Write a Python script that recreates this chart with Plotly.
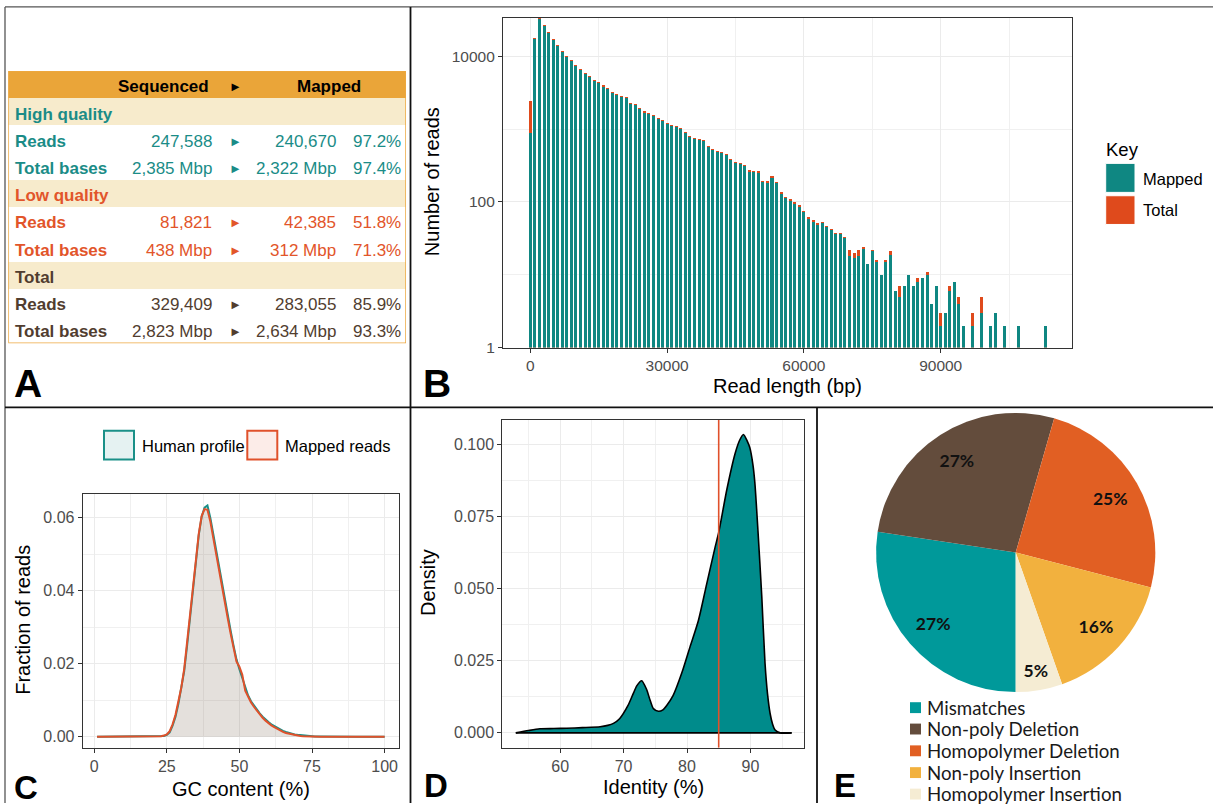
import math
import plotly.graph_objects as go

W, H = 1213, 811
def px(x): return x / W
def py(y): return 1 - y / H

FONT = "Liberation Sans, Arial, Helvetica, sans-serif"
PIE_FONT = "Lato, Open Sans, sans-serif"

# ---------------- Panel A : summary table ----------------
table_header = ["Sequenced", "\u25BA", "Mapped"]
table_labels = ["High quality", "Reads", "Total bases", "Low quality", "Reads", "Total bases",
                "Total", "Reads", "Total bases"]
table_is_section = [True, False, False, True, False, False, True, False, False]
table_group = ["hq", "hq", "hq", "lq", "lq", "lq", "tot", "tot", "tot"]
table_sequenced = ["", "247,588", "2,385 Mbp", "", "81,821", "438 Mbp", "", "329,409", "2,823 Mbp"]
table_mapped = ["", "240,670", "2,322 Mbp", "", "42,385", "312 Mbp", "", "283,055", "2,634 Mbp"]
table_pct = ["", "97.2%", "97.4%", "", "51.8%", "71.3%", "", "85.9%", "93.3%"]
group_colors = {"hq": "#1A8C87", "lq": "#E2552A", "tot": "#513D2F"}

# ---------------- Panel B : read length histogram ----------------
read_length = [i * 1000 for i in range(114)]
mapped_counts = [880, 17500, 33000, 26500, 21000, 16700, 13900, 11400, 9900, 8500,
                 7400, 6450, 5800, 5250, 4620, 4300, 3850, 3540, 3180, 2930,
                 2750, 2640, 2230, 2120, 1890, 1690, 1620, 1500, 1360, 1280,
                 1160, 1110, 1060, 1010, 893, 771, 730, 700, 680, 570,
                 510, 480, 470, 440, 380, 346, 335, 312, 261, 255,
                 253, 187, 185, 216, 180, 130, 112, 104, 95, 86,
                 72, 59, 54, 48, 51, 46, 41, 36, 36, 32,
                 18, 17, 18, 23, 14, 21, 15, 10, 15, 19,
                 6, 5, 7, 10, 7, 8, 9, 10, 4, 7,
                 2, 3, 6, 8, 4, 2, None, 2, None, 3,
                 None, 2, 3, None, 2, None, None, 2, None, None,
                 None, None, None, 2]
total_counts = [2450, 18100, 33600, 27300, 21700, 17300, 14400, 11800, 10200, 8800,
                7650, 6700, 6000, 5430, 4780, 4450, 3990, 3660, 3290, 3030,
                2850, 2730, 2310, 2190, 1960, 1750, 1680, 1550, 1410, 1330,
                1200, 1150, 1100, 1045, 925, 800, 756, 725, 705, 592,
                530, 498, 488, 457, 395, 360, 348, 325, 272, 266,
                264, 196, 196, 226, 188, 137, 118, 109, 100, 90,
                75, 62, 56, 51, 53, 47, 42, 37, 37, 33,
                22, 20, 22, 24, 14, 22, 16, 10, 16, 21,
                6, 7, 7, 10, 7, 9, 9, 11, 4, 7,
                3, 3, 7, 8, 5, 2, None, 3, None, 5,
                None, 2, 3, None, 2, None, None, 2, None, None,
                None, None, None, 2]
b_xticks = [0, 30000, 60000, 90000]
b_xticktext = ["0", "30000", "60000", "90000"]
b_yticks = [1, 100, 10000]
b_yticktext = ["1", "100", "10000"]

# ---------------- Panel C : GC content ----------------
gc_content = list(range(1, 101))
human_profile = [0] * 21 + [
    0.00002, 0.00008, 0.0002, 0.0005, 0.0012, 0.0030, 0.0055, 0.0090, 0.0130, 0.0180,
    0.0250, 0.0325, 0.0405, 0.0482, 0.0552, 0.0603, 0.0628, 0.0634, 0.0600, 0.0556,
    0.0510, 0.0467, 0.0424, 0.0379, 0.0334, 0.0290, 0.0249, 0.0212, 0.0185, 0.0160,
    0.0133, 0.0113, 0.0097, 0.0085, 0.0074, 0.0064, 0.0055, 0.0047, 0.0040, 0.0034,
    0.0029, 0.0024, 0.0020, 0.0016, 0.0013, 0.0010, 0.0008, 0.0006, 0.0005, 0.0004,
    0.0003, 0.0002, 0.00015, 0.0001, 0.00007, 0.00005, 0.00003, 0.00002, 0.00001] + [0] * 20
mapped_reads_gc = [0] * 21 + [
    0.00003, 0.0001, 0.0003, 0.0006, 0.0015, 0.0034, 0.0060, 0.0095, 0.0135, 0.0186,
    0.0258, 0.0332, 0.0413, 0.0488, 0.0556, 0.0605, 0.0624, 0.0622, 0.0590, 0.0545,
    0.0499, 0.0457, 0.0414, 0.0368, 0.0324, 0.0282, 0.0243, 0.0206, 0.0192, 0.0170,
    0.0126, 0.0108, 0.0094, 0.0082, 0.0071, 0.0061, 0.0052, 0.0044, 0.0037, 0.0031,
    0.0026, 0.0021, 0.0017, 0.0013, 0.0010, 0.0008, 0.0006, 0.0004, 0.0003, 0.0002,
    0.00015, 0.0001, 0.00007, 0.00005, 0.00003, 0.00002, 0.00001, 0.00001, 0.0] + [0] * 20
c_xticks = [0, 25, 50, 75, 100]
c_yticks = [0, 0.02, 0.04, 0.06]
c_yticktext = ["0.00", "0.02", "0.04", "0.06"]

# ---------------- Panel D : identity density ----------------
identity = [53.0, 55.0, 56.8, 59.0, 61.0, 63.5, 66.3, 67.5, 68.4, 69.4,
            70.7, 71.5, 72.1, 72.85, 73.6, 74.2, 74.7, 75.5, 76.2, 76.8,
            77.8, 79.2, 80.5, 81.8, 83.1, 84.4, 85.0, 86.3, 87.6, 88.3,
            88.9, 89.5, 89.9, 90.4, 90.7, 91.2, 91.8, 92.3, 92.7, 93.1,
            93.5, 93.9, 94.7, 96.5]
identity_density = [0.0, 0.0008, 0.0014, 0.0015, 0.0016, 0.0018, 0.0021, 0.0026, 0.0033, 0.0050,
                    0.0095, 0.0135, 0.0164, 0.0181, 0.0152, 0.0112, 0.0084, 0.0075, 0.0080, 0.0095,
                    0.0129, 0.0209, 0.0300, 0.0390, 0.0516, 0.0641, 0.0695, 0.0846, 0.0970, 0.1015,
                    0.1035, 0.1012, 0.0990, 0.0930, 0.0868, 0.0698, 0.0470, 0.0243, 0.0135, 0.0068,
                    0.0030, 0.0010, 0.0, 0.0]
identity_threshold = 85
d_xticks = [60, 70, 80, 90]
d_yticks = [0, 0.025, 0.05, 0.075, 0.1]
d_yticktext = ["0.000", "0.025", "0.050", "0.075", "0.100"]

# ---------------- Panel E : error types ----------------
error_types = ["Mismatches", "Non-poly Deletion", "Homopolymer Deletion", "Non-poly Insertion",
               "Homopolymer Insertion"]
error_share = [27.4, 27.1, 24.6, 15.6, 5.4]
error_colors = ["#00999A", "#634C3C", "#E15F23", "#F2B13E", "#F5ECD3"]

# ---------------- colours ----------------
TEAL_B, RED_B = "#0F8782", "#DF4A1C"
TEAL_C, RED_C = "#1A9088", "#E0512B"

fig = go.Figure()

# Panel A background rows (header + rows) as horizontal bars on a hidden axis
row_fill = ["#EAA539"] + ["#F7EBCC" if s else "#FFFFFF" for s in table_is_section]
TABLE_W = 397.7
fig.add_trace(go.Bar(y=list(range(10)), x=[TABLE_W] * 10, orientation="h", width=1,
                     marker=dict(color=row_fill, line=dict(width=0)),
                     xaxis="x4", yaxis="y4", hoverinfo="skip", showlegend=False))

# Panel B bars
fig.add_trace(go.Bar(x=read_length, y=total_counts, width=660, name="Total",
                     marker=dict(color=RED_B, line=dict(width=0)), showlegend=False))
fig.add_trace(go.Bar(x=read_length, y=mapped_counts, width=660, name="Mapped",
                     marker=dict(color=TEAL_B, line=dict(width=0)), showlegend=False))

# Panel C
fig.add_trace(go.Scatter(x=gc_content, y=human_profile, mode="lines", fill="tozeroy",
                         fillcolor="rgba(0,128,128,0.10)", line=dict(color=TEAL_C, width=2),
                         xaxis="x2", yaxis="y2", showlegend=False))
fig.add_trace(go.Scatter(x=gc_content, y=mapped_reads_gc, mode="lines", fill="tozeroy",
                         fillcolor="rgba(222,72,30,0.10)", line=dict(color=RED_C, width=2),
                         xaxis="x2", yaxis="y2", showlegend=False))

# Panel D
fig.add_trace(go.Scatter(x=identity, y=identity_density, mode="lines", fill="tozeroy",
                         fillcolor="#008B8B", line=dict(color="black", width=1.6, shape="spline", smoothing=0.7),
                         xaxis="x3", yaxis="y3", showlegend=False))
fig.add_trace(go.Scatter(x=[min(identity), max(identity)], y=[0, 0], mode="lines",
                         line=dict(color="black", width=1.6), xaxis="x3", yaxis="y3", showlegend=False))
fig.add_trace(go.Scatter(x=[identity_threshold, identity_threshold], y=[-0.0052, 0.1087], mode="lines",
                         line=dict(color="#E0512B", width=1.6), xaxis="x3", yaxis="y3", showlegend=False))

# Panel E : coloured pie, plus a transparent ring on top that carries the labels
pie_domain = dict(x=[px(874.7), px(1156.7)], y=[py(699), py(417)])
fig.add_trace(go.Pie(labels=error_types, values=error_share, sort=False, direction="clockwise",
                     rotation=180, marker=dict(colors=error_colors, line=dict(width=0)),
                     textinfo="none", domain=pie_domain, showlegend=False, hoverinfo="skip"))
fig.add_trace(go.Pie(labels=error_types, values=error_share, sort=False, direction="clockwise",
                     rotation=180, hole=0.56,
                     marker=dict(colors=["rgba(0,0,0,0)"] * len(error_types), line=dict(width=0)),
                     textposition="inside", insidetextorientation="horizontal",
                     texttemplate="%{percent:.0%}",
                     textfont=dict(family=PIE_FONT, size=17.5, color="#111111", weight="bold"),
                     domain=pie_domain, showlegend=False, hoverinfo="skip"))

def axis_style(**kw):
    d = dict(showline=True, mirror=True, linecolor="#333333", linewidth=1.1,
             ticks="outside", ticklen=4, tickwidth=1, tickcolor="#333333",
             tickfont=dict(family=FONT, size=16, color="#4D4D4D"),
             showgrid=True, gridcolor="#EBEBEB", gridwidth=1.1, zeroline=False)
    d.update(kw)
    return d

def minor(vals):
    return dict(tickvals=vals, showgrid=True, gridcolor="#F0F0F0", gridwidth=0.6, ticks="")

ymax_b = math.log10(max(v for v in total_counts if v))

fig.update_layout(
    width=W, height=H, margin=dict(l=0, r=0, t=0, b=0),
    paper_bgcolor="white", plot_bgcolor="white", barmode="overlay", bargap=0,
    showlegend=False,
    xaxis=axis_style(domain=[px(503), px(1072)], range=[-6000, 118800], anchor="y",
                     tickvals=b_xticks, ticktext=b_xticktext,
                     minor=minor([15000, 45000, 75000, 105000]),
                     tickfont=dict(family=FONT, size=15.5, color="#4D4D4D")),
    yaxis=axis_style(domain=[py(351), py(18)], type="log", range=[0, ymax_b], anchor="x",
                     tickvals=b_yticks, ticktext=b_yticktext, minor=minor([10, 1000]),
                     tickfont=dict(family=FONT, size=15.5, color="#4D4D4D")),
    xaxis2=axis_style(domain=[px(82.7), px(399)], range=[-3.95, 104.95], anchor="y2",
                      tickvals=c_xticks, minor=minor([12.5, 37.5, 62.5, 87.5])),
    yaxis2=axis_style(domain=[py(755.7), py(498.7)], range=[-0.00317, 0.0666], anchor="x2",
                      tickvals=c_yticks, ticktext=c_yticktext, minor=minor([0.01, 0.03, 0.05])),
    xaxis3=axis_style(domain=[px(502.3), px(804.3)], range=[50.87, 98.5], anchor="y3",
                      tickvals=d_xticks, minor=minor([55, 65, 75, 85, 95])),
    yaxis3=axis_style(domain=[py(755.3), py(423.7)], range=[-0.0052, 0.1087], anchor="x3",
                      tickvals=d_yticks, ticktext=d_yticktext,
                      minor=minor([0.0125, 0.0375, 0.0625, 0.0875])),
    xaxis4=dict(domain=[px(8.3), px(406)], range=[0, TABLE_W], visible=False, anchor="y4",
                fixedrange=True),
    yaxis4=dict(domain=[py(346.7), py(71.7)], range=[9.5, -0.5], visible=False, anchor="x4",
                fixedrange=True),
)

shapes = []
annotations = []

def ann(x, y, text, size, color="black", xanchor="center", bold=False, family=FONT,
        xref="paper", yref="paper", angle=0):
    annotations.append(dict(x=x, y=y, xref=xref, yref=yref, text=text, showarrow=False,
                            xanchor=xanchor, yanchor="middle", textangle=angle,
                            font=dict(family=family, size=size, color=color,
                                      weight="bold" if bold else "normal")))

# ---- Panel A table text
TXT_DY = 0.08
ann(202.4, 0 + TXT_DY, table_header[0], 17, bold=True, xanchor="right", xref="x4", yref="y4")
ann(226.7, 0 + TXT_DY, table_header[1], 13, xref="x4", yref="y4")
ann(320.7, 0 + TXT_DY, table_header[2], 17, bold=True, xref="x4", yref="y4")
for i, lab in enumerate(table_labels):
    r = i + 1 + TXT_DY
    col = group_colors[table_group[i]]
    ann(4.4, r, lab, 17, color=col, bold=True, xanchor="left", xref="x4", yref="y4")
    if not table_is_section[i]:
        ann(205.7, r, table_sequenced[i], 17, color=col, xanchor="right", xref="x4", yref="y4")
        ann(226.7, r, "\u25BA", 13, color=col, xref="x4", yref="y4")
        ann(329.7, r, table_mapped[i], 17, color=col, xanchor="right", xref="x4", yref="y4")
        ann(394.4, r, table_pct[i], 17, color=col, xanchor="right", xref="x4", yref="y4")
shapes.append(dict(type="rect", xref="x4", yref="y4", x0=0, x1=TABLE_W, y0=-0.5, y1=9.5,
                   line=dict(color="#EDA840", width=1.5), fillcolor="rgba(0,0,0,0)"))

# ---- axis titles
ann(px(432), py(184), "Number of reads", 20, angle=-90)
ann(px(787), py(390), "Read length (bp)", 20)
ann(px(23), py(626), "Fraction of reads", 20, angle=-90)
ann(px(240.7), py(796.7), "GC content (%)", 20)
ann(px(428), py(588.7), "Density", 20, angle=-90)
ann(px(653.3), py(795.3), "Identity (%)", 20)

# ---- Panel B legend
ann(px(1104), py(150.5), "Key", 18.5, xanchor="left")
shapes.append(dict(type="rect", xref="paper", yref="paper", x0=px(1105.7), x1=px(1135),
                   y0=py(194.3), y1=py(165), fillcolor=TEAL_B, line=dict(color="white", width=1)))
shapes.append(dict(type="rect", xref="paper", yref="paper", x0=px(1105.7), x1=px(1135),
                   y0=py(226.7), y1=py(197.7), fillcolor=RED_B, line=dict(color="white", width=1)))
ann(px(1141), py(180.7), "Mapped", 16.5, xanchor="left")
ann(px(1141), py(211.7), "Total", 16.5, xanchor="left")

# ---- Panel C legend
shapes.append(dict(type="rect", xref="paper", yref="paper", x0=px(104), x1=px(134),
                   y0=py(464), y1=py(435), fillcolor="rgba(0,128,128,0.10)",
                   line=dict(color=TEAL_C, width=2)))
shapes.append(dict(type="rect", xref="paper", yref="paper", x0=px(247.3), x1=px(277.3),
                   y0=py(464), y1=py(435), fillcolor="rgba(222,72,30,0.10)",
                   line=dict(color=RED_C, width=2)))
ann(px(140), py(450.5), "Human profile", 16.5, xanchor="left")
ann(px(282.7), py(450.5), "Mapped reads", 16.5, xanchor="left")

# ---- Panel E legend
legend_rows = [714.7, 736.3, 758.3, 780.3, 802]
for name, colr, yy in zip(error_types, error_colors, legend_rows):
    shapes.append(dict(type="rect", xref="paper", yref="paper", x0=px(910), x1=px(921),
                       y0=py(yy + 5.5), y1=py(yy - 5.5), fillcolor=colr, line=dict(width=0)))
    ann(px(925), py(yy), name, 18.7, color="#1A1A1A", xanchor="left", family=PIE_FONT)

# ---- panel letters
ann(px(12), py(387), "A", 39, bold=True, xanchor="left")
ann(px(421), py(387), "B", 39, bold=True, xanchor="left")
ann(px(12), py(795), "C", 33, bold=True, xanchor="left")
ann(px(422), py(793), "D", 33, bold=True, xanchor="left")
ann(px(832), py(793), "E", 33, bold=True, xanchor="left")

# ---- figure frame lines
def pline(x0, y0, x1, y1, color, width):
    shapes.append(dict(type="line", xref="paper", yref="paper", x0=px(x0), y0=py(y0),
                       x1=px(x1), y1=py(y1), line=dict(color=color, width=width)))
pline(5, 7, 1213, 7, "#555555", 1.3)
pline(5, 7, 5, 811, "#555555", 1.3)
pline(410.5, 7, 410.5, 811, "#111111", 1.8)
pline(5, 411.5, 1213, 411.5, "#111111", 1.8)
pline(817, 411.5, 817, 811, "#111111", 1.8)

fig.update_layout(shapes=shapes, annotations=annotations)

fig.write_html("out.html", config={"displayModeBar": False},
               post_script="document.body.style.margin='0';document.body.style.overflow='hidden';")
